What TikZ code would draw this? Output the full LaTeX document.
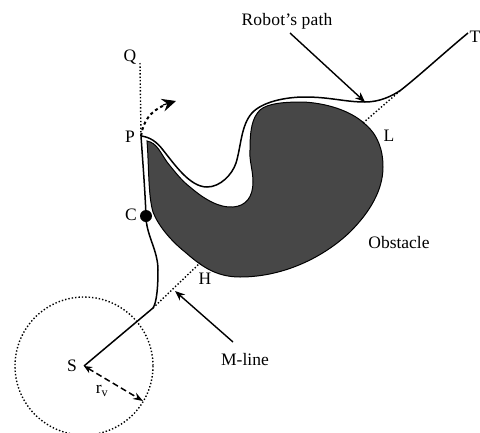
\documentclass[tikz,border=0pt]{standalone}
\usepackage{fontspec}
\setmainfont{Liberation Serif}
\usetikzlibrary{arrows.meta}
\tikzset{
 lbl/.style={inner sep=0pt,font=\fontsize{17.5}{20}\selectfont,text=black},
 pathline/.style={line width=1.5pt,black,line join=round},
 dotline/.style={line width=1.4pt,dash pattern=on 1.4pt off 2pt,black},
 ptr/.style={line width=1.4pt,-{Stealth[length=10pt,width=8pt]}},
 obst/.style={fill=black!72,draw=black,line width=1pt},
}
\begin{document}
\begin{tikzpicture}[x=1pt,y=-1pt]
\useasboundingbox (0,0) rectangle (480,432);
\clip (0,0) rectangle (480,432);
\coordinate (S) at (84,366);
\coordinate (Pp) at (141,136);
\coordinate (Qp) at (140,63);
\coordinate (Hp) at (200,263);
\coordinate (Lp) at (363,123);
\coordinate (Jh) at (153,308);
\coordinate (Jl) at (401,90);
\coordinate (Tp) at (468,33);
\coordinate (Rim) at (143,401);
% obstacle
\draw[obst] (147,141) .. controls (157,143) and (160,152) .. (167,162)
 .. controls (175,172) and (182,181) .. (190,187)
 .. controls (205,200) and (220,208) .. (233,207)
 .. controls (246,206) and (253,197) .. (253,182)
 .. controls (253,170) and (249,160) .. (250,150)
 .. controls (250,130) and (252,118) .. (260,110)
 .. controls (268,103) and (285,102) .. (303,102)
 .. controls (325,103) and (350,110) .. (365,124)
 .. controls (378,135) and (383,150) .. (383,167)
 .. controls (383,190) and (370,212) .. (350,232)
 .. controls (325,256) and (285,277) .. (240,277)
 .. controls (215,277) and (200,265) .. (185,252)
 .. controls (170,240) and (158,225) .. (153,212)
 .. controls (148,195) and (149,165) .. (147,141) -- cycle;
% dotted lines
\draw[dotline] (Qp) -- (Pp);
\draw[dotline] (Jh) -- (Hp);
\draw[dotline] (Lp) -- (Jl);
\draw[dotline] (S) circle[radius=69];
% robot's path
\draw[pathline] (S) -- (Jh) .. controls (157,302) and (158,285) .. (158,270)
 .. controls (158,250) and (146,235) .. (146,216)
 .. controls (145,190) and (143,165) .. (Pp)
 .. controls (150,137) and (157,142) .. (163,150)
 .. controls (175,165) and (190,187) .. (207,187)
 .. controls (220,187) and (232,175) .. (236,163)
 .. controls (241,147) and (241,125) .. (252,113)
 .. controls (262,102) and (285,97) .. (305,97)
 .. controls (330,97) and (345,102) .. (365,102)
 .. controls (380,102) and (392,96) .. (Jl)
 .. controls (420,75) and (445,52) .. (Tp);
% C dot
\node[circle,fill=black,minimum size=12pt,inner sep=0pt] (Cdot) at (146,216) {};
% curved dashed arrow
\draw[line width=2pt,dash pattern=on 3pt off 3pt] (Pp) .. controls (143,122) and (150,111) .. (165,105);
\coordinate (Ah) at (163,105);
\coordinate (At) at (176,101);
\draw[line width=1.2pt,-{Stealth[length=14pt,width=13pt,inset=5pt]}] (Ah) -- (At);
% radius
\draw[line width=1.5pt,dash pattern=on 6pt off 3.5pt,{Stealth[length=8pt,width=7pt]}-{Stealth[length=10pt,width=7pt]}] (S) -- (Rim);
% labels
\node[lbl] (Q) at (130,57) {Q};
\node[lbl] (P) at (130,137) {P};
\node[lbl] (C) at (131,215) {C};
\node[lbl] (H) at (205,279) {H};
\node[lbl] (L) at (389,136) {L};
\node[lbl] (T) at (475,37) {T};
\node[lbl] (Slab) at (72,366) {S};
\node[lbl] (rv) at (102,391) {r\textsubscript{v}};
\node[lbl,font=\fontsize{17.5}{20}\selectfont\addfontfeature{LetterSpace=1}] (Rp) at (287,21) {Robot's path};
\node[lbl] (Ob) at (399,243) {Obstacle};
\node[lbl] (Ml) at (245,360) {M-line};
% pointers
\coordinate (a1) at (290,33);
\coordinate (a2) at (233,342);
\draw[ptr] (a1) -- (365,102);
\draw[ptr] (a2) -- (175,291);
\end{tikzpicture}
\end{document}
